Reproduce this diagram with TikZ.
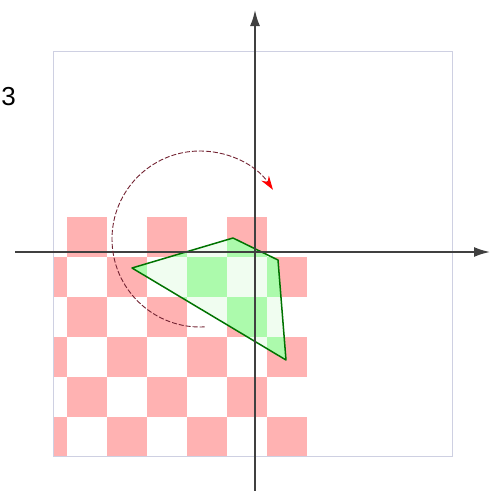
\documentclass[tikz,border=0pt]{standalone}
\usepackage{fontspec}
\setmainfont{Liberation Sans}
\usepackage{xcolor}
\usepackage{tikz}
\usetikzlibrary{arrows.meta}

\definecolor{cellpink}{RGB}{255,178,178}
\definecolor{cellgreen}{RGB}{172,250,172}
\definecolor{cellpale}{RGB}{240,253,240}
\definecolor{framegray}{RGB}{206,208,226}
\definecolor{turnred}{RGB}{115,35,50}

\newcommand{\checkcells}[1]{%
  \foreach \c in {0,...,6}
    \foreach \r in {0,...,5} {
      \pgfmathtruncatemacro\s{\c+\r}
      \ifodd\s \fill[#1] (27+40*\c,217+40*\r) rectangle ++(40,40); \fi
    }%
}

\begin{document}
\begin{tikzpicture}[
    x=1pt, y=-1pt,
    axis/.style={draw=black!75, line width=1.8pt, -{Latex[length=16pt,width=10pt]}},
    frame/.style={draw=framegray, line width=0.9pt},
    poly/.style={draw=green!45!black, line width=1.5pt, line join=round},
    turn/.style={draw=turnred, line width=0.9pt, dash pattern=on 5pt off 2pt,
        -{Stealth[red, length=14pt, width=9pt]}},
    label/.style={font=\fontsize{26}{26}\selectfont, inner sep=0pt}
]
\useasboundingbox (0,0) rectangle (490,491);

\coordinate (tl) at (53,51);
\coordinate (br) at (452,456);
\coordinate (O) at (255,252);
\coordinate (ctr) at (200,239);
\coordinate (pa) at (132,268);
\coordinate (pb) at (233,238);
\coordinate (pc) at (278,260);
\coordinate (pd) at (286,360);

\node[label, anchor=base east] (num) at (16,105) {3};

\begin{scope}
    \clip (tl) rectangle (br);
    \checkcells{cellpink}
\end{scope}
\draw[frame] (tl) rectangle (br);

\begin{scope}
    \clip (pa) -- (pb) -- (pc) -- (pd) -- cycle;
    \fill[cellpale] (120,230) rectangle (300,370);
    \checkcells{cellgreen}
\end{scope}
\draw[poly] (pa) -- (pb) -- (pc) -- (pd) -- cycle;

\draw[axis] (O -| 15,0) -- (O -| 490,0);
\draw[axis] (O |- 0,491) -- (O |- 0,10);

\draw[turn] (ctr) ++(87:88) arc[start angle=87, end angle=326, radius=88];
\end{tikzpicture}
\end{document}
